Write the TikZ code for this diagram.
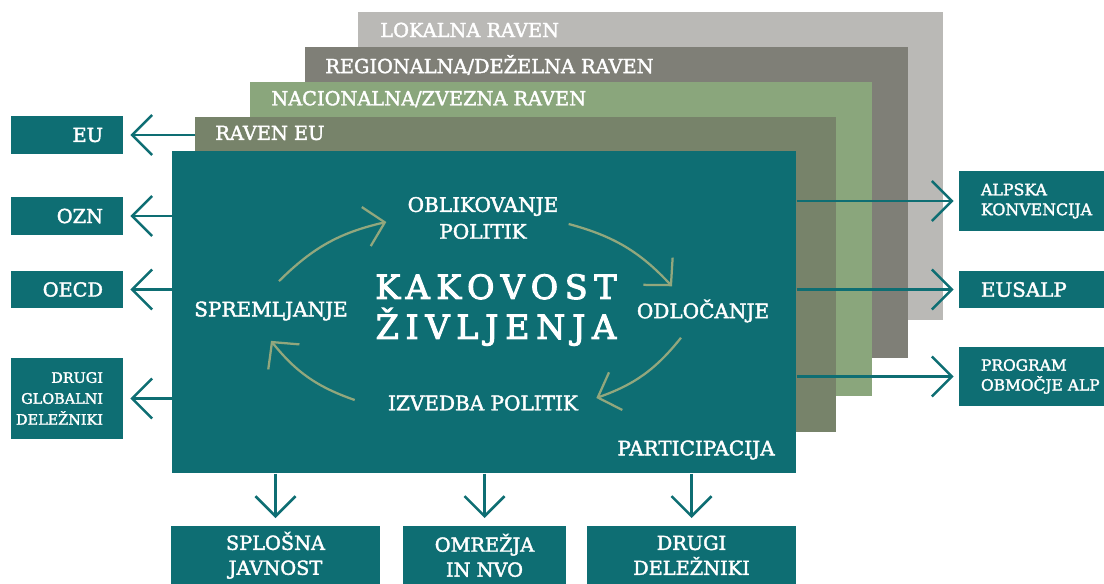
\documentclass[tikz,border=0pt]{standalone}
\usepackage{fontspec}
\setmainfont{DejaVu Serif}[FakeBold=2]
\usetikzlibrary{arrows.meta}
\definecolor{tealbox}{HTML}{0E6E73}
\definecolor{lvllok}{HTML}{BAB9B6}
\definecolor{lvlreg}{HTML}{7F7F77}
\definecolor{lvlnac}{HTML}{8AA67C}
\definecolor{lvleu}{HTML}{77836A}
\definecolor{cycgreen}{HTML}{92A77D}

\begin{document}
\begin{tikzpicture}[x=0.2mm,y=-0.2mm,
  layer/.style={inner sep=0pt,anchor=north west},
  lvltxt/.style={text=white,anchor=west,inner sep=0pt,font=\fontsize{11}{13}\selectfont},
  ctxt/.style={text=white,inner sep=0pt,align=center,font=\fontsize{11.4}{15.3}\selectfont},
  lbox/.style={fill=tealbox,inner sep=0pt,minimum width=22.4mm},
  ltxt/.style={anchor=east,xshift=-4mm,inner sep=0pt,text=white,align=right},
  rbox/.style={fill=tealbox,inner sep=0pt,minimum width=29mm},
  rtxt/.style={anchor=west,xshift=4.4mm,inner sep=0pt,text=white,align=left},
  bbox/.style={fill=tealbox,inner sep=0pt,anchor=north,minimum height=11.6mm,text=white,align=center,font=\fontsize{11}{14.2}\selectfont},
  conn/.style={draw=tealbox,line width=0.5mm,-{Straight Barb[length=4mm,width=8mm]}},
  cyc/.style={draw=cycgreen,line width=0.45mm,-{Straight Barb[length=3.8mm,width=8mm]},bend left=16}]
  \useasboundingbox (0,0) rectangle (1104,584);
  \node[layer,fill=lvllok,minimum width=117mm,minimum height=61.6mm] (lok) at (358,12) {};
  \node[layer,fill=lvlreg,minimum width=120.6mm,minimum height=62.2mm] (reg) at (305,47) {};
  \node[layer,fill=lvlnac,minimum width=124.4mm,minimum height=62.8mm] (nac) at (250,82) {};
  \node[layer,fill=lvleu,minimum width=128.2mm,minimum height=63mm] (leu) at (195,117) {};
  \node[layer,fill=tealbox,minimum width=124.8mm,minimum height=64.4mm] (main) at (172,151) {};
  \node[lvltxt] (loktxt) at (380,30) {LOKALNA RAVEN};
  \node[lvltxt] (regtxt) at (325,65) {REGIONALNA/DEŽELNA RAVEN};
  \node[lvltxt] (nactxt) at (271,99) {NACIONALNA/ZVEZNA RAVEN};
  \node[lvltxt] (leutxt) at (215,133) {RAVEN EU};

  \node[lbox,minimum height=7.6mm,label={[ltxt,font=\fontsize{11}{13}\selectfont]east:EU}] (eu) at (67,135) {};
  \node[lbox,minimum height=7.6mm,label={[ltxt,font=\fontsize{11}{13}\selectfont]east:OZN}] (ozn) at (67,216) {};
  \node[lbox,minimum height=7.4mm,label={[ltxt,font=\fontsize{11}{13}\selectfont]east:OECD}] (oecd) at (67,289.5) {};
  \node[lbox,minimum height=16.2mm,label={[ltxt,font=\fontsize{8.2}{11.9}\selectfont]east:{DRUGI\\GLOBALNI\\DELEŽNIKI}}] (drglob) at (67,398.5) {};
  \node[rbox,minimum height=11.8mm,label={[rtxt,font=\fontsize{9}{11.3}\selectfont]west:{ALPSKA\\KONVENCIJA}}] (alpk) at (1031.5,201) {};
  \node[rbox,minimum height=7.4mm,label={[rtxt,font=\fontsize{11.3}{14}\selectfont]west:EUSALP}] (eusalp) at (1031.5,289.5) {};
  \node[rbox,minimum height=11.8mm,label={[rtxt,font=\fontsize{8.8}{11.3}\selectfont]west:{PROGRAM\\OBMOČJE ALP}}] (alpprog) at (1031.5,376.5) {};
  \node[bbox,minimum width=41.8mm] (splos) at (275.5,526) {SPLOŠNA\\JAVNOST};
  \node[bbox,minimum width=32.6mm] (omrez) at (484.5,526) {OMREŽJA\\IN NVO};
  \node[bbox,minimum width=41.8mm] (drdel) at (691.5,526) {DRUGI\\DELEŽNIKI};

  \draw[conn,shorten >=1.4mm] (leu.west |- eu) -- (eu.east);
  \draw[conn,shorten >=1.4mm] (main.west |- ozn) -- (ozn.east);
  \draw[conn,shorten >=1.4mm] (main.west |- oecd) -- (oecd.east);
  \draw[conn,shorten >=1.4mm] (main.west |- drglob) -- (drglob.east);
  \draw[conn,shorten >=1mm] (main.east |- alpk) -- (alpk.west);
  \draw[conn,shorten >=1mm] (main.east |- eusalp) -- (eusalp.west);
  \draw[conn,shorten >=1mm] (main.east |- alpprog) -- (alpprog.west);
  \draw[conn,shorten >=1.6mm] (main.south -| splos) -- (splos.north);
  \draw[conn,shorten >=1.6mm] (main.south -| omrez) -- (omrez.north);
  \draw[conn,shorten >=1.6mm] (main.south -| drdel) -- (drdel.north);

  \node[ctxt] (oblik) at (483,218) {OBLIKOVANJE\\POLITIK};
  \node[ctxt] (sprem) at (271,311) {SPREMLJANJE};
  \node[ctxt] (odloc) at (703,311) {ODLOČANJE};
  \node[ctxt] (izved) at (483,403) {IZVEDBA POLITIK};
  \node[ctxt,anchor=east] (parti) at (775,450) {PARTICIPACIJA};
  \node[text=white,align=center,font=\fontsize{19}{22.7}\selectfont\addfontfeature{LetterSpace=20,FakeBold=3}] (kakov) at (496,310) {KAKOVOST\\ŽIVLJENJA};
  \draw[cyc] ([xshift=1.6mm,yshift=4mm]sprem.north) to ([xshift=-4.2mm,yshift=-0.8mm]oblik.west);
  \draw[cyc] ([xshift=2mm,yshift=-1.2mm]oblik.east) to ([xshift=-6.2mm,yshift=2.6mm]odloc.north);
  \draw[cyc] ([xshift=-4.4mm,yshift=-3mm]odloc.south) to ([xshift=3.6mm,yshift=1mm]izved.east);
  \draw[cyc] ([xshift=-6.6mm,yshift=0.6mm]izved.west) to ([yshift=-4mm]sprem.south);
\end{tikzpicture}
\end{document}
